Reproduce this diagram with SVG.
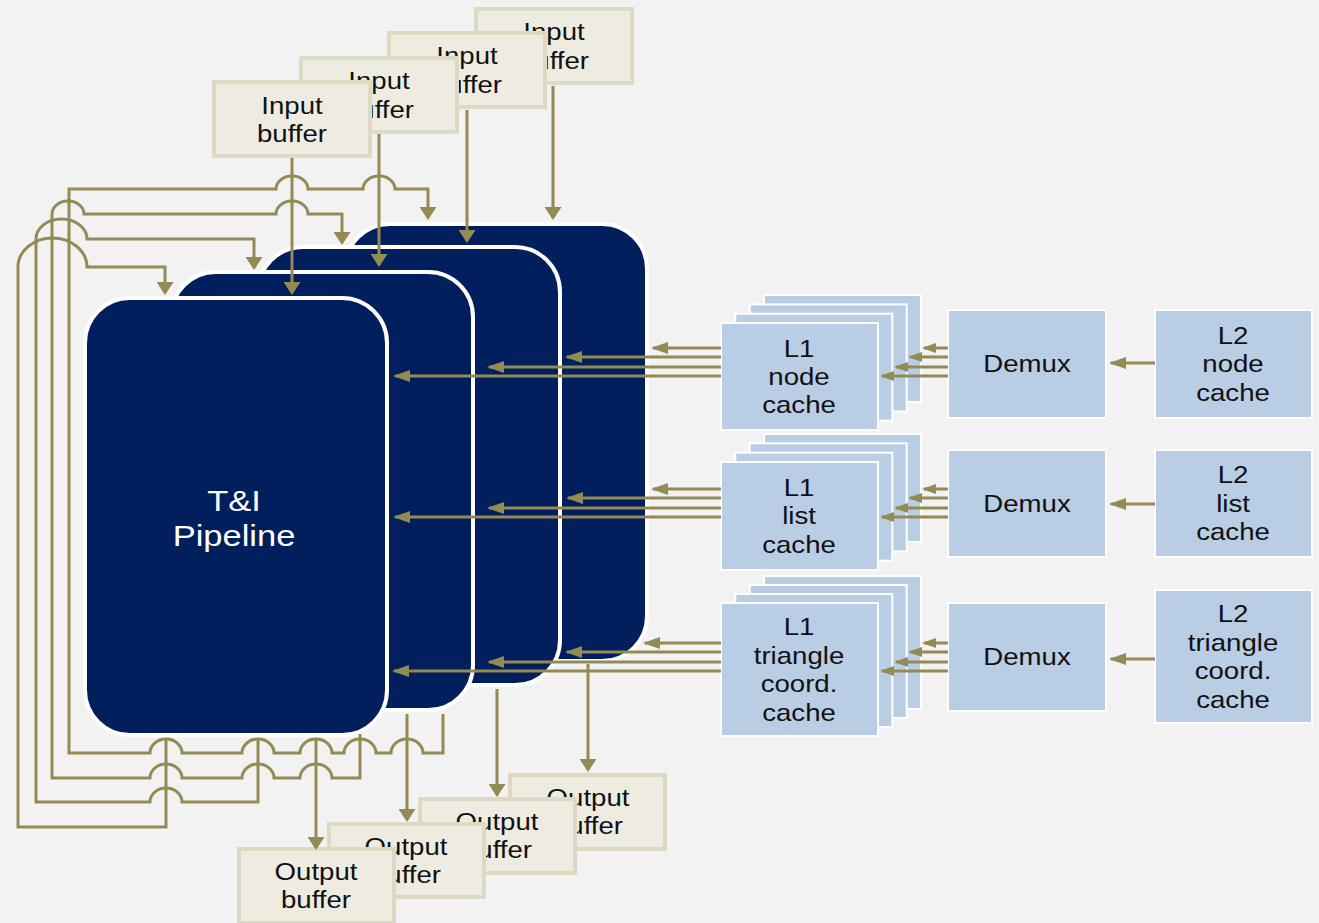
<svg xmlns="http://www.w3.org/2000/svg" width="1319" height="923" viewBox="0 0 1319 923">
<defs>
<style>
.pipe{fill:#001F5C;stroke:#FFFFFF;stroke-width:4}
.buf{fill:#EEECE1;stroke:#DDD9C3;stroke-width:4}
.cache{fill:#B9CDE5;stroke:#FFFFFF;stroke-width:2}
.lbl{font-family:"Liberation Sans",Arial,sans-serif;font-size:24px;fill:#111111;text-anchor:middle}
.big{font-family:"Liberation Sans",Arial,sans-serif;font-size:30px;fill:#FFFFFF;text-anchor:middle}
.ln{fill:none;stroke:#948A54;stroke-width:3}
.ah{marker-end:url(#ah)}
.as{marker-end:url(#as)}
.av{marker-end:url(#av)}
</style>
<marker id="ah" markerUnits="userSpaceOnUse" markerWidth="17" markerHeight="12" viewBox="0 0 17 12" refX="15" refY="6" orient="auto"><path d="M0,0 L17,6 L0,12 z" fill="#948A54"/></marker>
<marker id="as" markerUnits="userSpaceOnUse" markerWidth="14" markerHeight="10" viewBox="0 0 14 10" refX="12" refY="5" orient="auto"><path d="M0,0 L14,5 L0,10 z" fill="#948A54"/></marker>
<marker id="av" markerUnits="userSpaceOnUse" markerWidth="13" markerHeight="17" viewBox="0 0 13 17" refX="11" refY="8.5" orient="auto"><path d="M0,0 L13,8.5 L0,17 z" fill="#948A54"/></marker>
</defs>
<rect x="0" y="0" width="1319" height="923" fill="#F2F2F2"/>

<g id="pipeline-3"><rect class="pipe" x="345" y="224" width="302" height="437" rx="45"/></g>
<g id="pipeline-2"><rect class="pipe" x="258" y="247" width="302" height="438" rx="45"/></g>
<g id="pipeline-1"><rect class="pipe" x="171" y="272" width="302" height="438" rx="45"/></g>
<g id="pipeline-0"><rect class="pipe" x="85" y="298" width="302" height="437" rx="45"/>
<text class="big" transform="translate(234,0) scale(1.15,1)"><tspan x="0" y="511">T&amp;I</tspan><tspan x="0" y="546">Pipeline</tspan></text></g>

<g id="input-buffer-3"><rect class="buf" x="476" y="9" width="156" height="74"/>
<text class="lbl" transform="translate(554,0) scale(1.15,1)"><tspan x="0" y="40">Input</tspan><tspan x="0" y="69">buffer</tspan></text></g>
<g id="input-buffer-2"><rect class="buf" x="389" y="33" width="156" height="74"/>
<text class="lbl" transform="translate(467,0) scale(1.15,1)"><tspan x="0" y="64.5">Input</tspan><tspan x="0" y="93">buffer</tspan></text></g>
<g id="input-buffer-1"><rect class="buf" x="301" y="58" width="156" height="74"/>
<text class="lbl" transform="translate(379,0) scale(1.15,1)"><tspan x="0" y="89">Input</tspan><tspan x="0" y="118">buffer</tspan></text></g>
<g id="input-buffer-0"><rect class="buf" x="214" y="82" width="156" height="74"/>
<text class="lbl" transform="translate(292,0) scale(1.15,1)"><tspan x="0" y="114">Input</tspan><tspan x="0" y="142">buffer</tspan></text></g>

<g id="output-buffer-3"><rect class="buf" x="510" y="775" width="155" height="74"/>
<text class="lbl" transform="translate(588,0) scale(1.15,1)"><tspan x="0" y="806">Output</tspan><tspan x="0" y="834">buffer</tspan></text></g>
<g id="output-buffer-2"><rect class="buf" x="420" y="799" width="155" height="74"/>
<text class="lbl" transform="translate(497,0) scale(1.15,1)"><tspan x="0" y="830">Output</tspan><tspan x="0" y="858">buffer</tspan></text></g>
<g id="output-buffer-1"><rect class="buf" x="329" y="824" width="155" height="73"/>
<text class="lbl" transform="translate(406,0) scale(1.15,1)"><tspan x="0" y="855">Output</tspan><tspan x="0" y="883">buffer</tspan></text></g>
<g id="output-buffer-0"><rect class="buf" x="239" y="849" width="155" height="74"/>
<text class="lbl" transform="translate(316,0) scale(1.15,1)"><tspan x="0" y="880">Output</tspan><tspan x="0" y="908">buffer</tspan></text></g>

<g id="l1-node-cache">
<rect class="cache" x="764" y="295" width="157" height="107"/>
<rect class="cache" x="749.7" y="304.4" width="157" height="107"/>
<rect class="cache" x="735.3" y="313.7" width="157" height="107"/>
<rect class="cache" x="721" y="323" width="157" height="107"/>
<text class="lbl" transform="translate(799,0) scale(1.15,1)"><tspan x="0" y="357">L1</tspan><tspan x="0" y="385">node</tspan><tspan x="0" y="413.5">cache</tspan></text></g>
<g id="l1-list-cache">
<rect class="cache" x="764" y="434" width="157" height="108"/>
<rect class="cache" x="749.7" y="443.3" width="157" height="108"/>
<rect class="cache" x="735.3" y="452.7" width="157" height="108"/>
<rect class="cache" x="721" y="462" width="157" height="108"/>
<text class="lbl" transform="translate(799,0) scale(1.15,1)"><tspan x="0" y="496">L1</tspan><tspan x="0" y="524.5">list</tspan><tspan x="0" y="553">cache</tspan></text></g>
<g id="l1-triangle-cache">
<rect class="cache" x="764" y="576" width="157" height="133"/>
<rect class="cache" x="749.7" y="585" width="157" height="133"/>
<rect class="cache" x="735.3" y="594" width="157" height="133"/>
<rect class="cache" x="721" y="603" width="157" height="133"/>
<text class="lbl" transform="translate(799,0) scale(1.15,1)"><tspan x="0" y="635.5">L1</tspan><tspan x="0" y="664">triangle</tspan><tspan x="0" y="692.5">coord.</tspan><tspan x="0" y="721">cache</tspan></text></g>

<g id="demux-node"><rect class="cache" x="948" y="310" width="158" height="108"/>
<text class="lbl" transform="translate(1027,0) scale(1.15,1)"><tspan x="0" y="372.5">Demux</tspan></text></g>
<g id="demux-list"><rect class="cache" x="948" y="450" width="158" height="107"/>
<text class="lbl" transform="translate(1027,0) scale(1.15,1)"><tspan x="0" y="512">Demux</tspan></text></g>
<g id="demux-triangle"><rect class="cache" x="948" y="603" width="158" height="108"/>
<text class="lbl" transform="translate(1027,0) scale(1.15,1)"><tspan x="0" y="665.5">Demux</tspan></text></g>

<g id="l2-node-cache"><rect class="cache" x="1155" y="310" width="157" height="108"/>
<text class="lbl" transform="translate(1233,0) scale(1.15,1)"><tspan x="0" y="344">L2</tspan><tspan x="0" y="372.5">node</tspan><tspan x="0" y="401">cache</tspan></text></g>
<g id="l2-list-cache"><rect class="cache" x="1155" y="450" width="157" height="107"/>
<text class="lbl" transform="translate(1233,0) scale(1.15,1)"><tspan x="0" y="483.5">L2</tspan><tspan x="0" y="512">list</tspan><tspan x="0" y="540.5">cache</tspan></text></g>
<g id="l2-triangle-cache"><rect class="cache" x="1155" y="590" width="157" height="133"/>
<text class="lbl" transform="translate(1233,0) scale(1.15,1)"><tspan x="0" y="622.5">L2</tspan><tspan x="0" y="651">triangle</tspan><tspan x="0" y="679.5">coord.</tspan><tspan x="0" y="708">cache</tspan></text></g>

<g id="connectors">
<path class="ln av" d="M292,158 V293"/>
<path class="ln av" d="M379,134 V265"/>
<path class="ln av" d="M467,110 V241"/>
<path class="ln av" d="M553,86 V218"/>

<path class="ln av" d="M166,738 V827 H18 V267 A34.5,29 0 0 1 87,267 H165 V293"/>
<path class="ln av" d="M258,738 V802 H182 A16,14 0 0 0 150,802 H36 V239 A25.5,20 0 0 1 87,239 H254 V268"/>
<path class="ln av" d="M360,734 V778 H332 A16,14 0 0 0 300,778 H274 A16,14 0 0 0 242,778 H182 A16,14 0 0 0 150,778 H52 V214 A16,13 0 0 1 84,214 H276 A16,13 0 0 1 308,214 H342 V243"/>
<path class="ln av" d="M443,714 V753 H423 A16,14 0 0 0 391,753 H376 A16,14 0 0 0 344,753 H332 A16,14 0 0 0 300,753 H274 A16,14 0 0 0 242,753 H182 A16,14 0 0 0 150,753 H69 V189 H276 A16,13 0 0 1 308,189 H363 A16,13 0 0 1 395,189 H428 V218"/>

<path class="ln av" d="M316,739 V848"/>
<path class="ln av" d="M407,714 V820"/>
<path class="ln av" d="M497,689 V795"/>
<path class="ln av" d="M588,664 V770"/>

<path class="ln ah" d="M721,348 H653"/>
<path class="ln ah" d="M721,357 H567"/>
<path class="ln ah" d="M721,367 H489"/>
<path class="ln ah" d="M721,376 H395"/>
<path class="ln ah" d="M721,489 H653"/>
<path class="ln ah" d="M721,498 H568"/>
<path class="ln ah" d="M721,508 H489"/>
<path class="ln ah" d="M721,517 H395"/>
<path class="ln ah" d="M721,643 H645"/>
<path class="ln ah" d="M721,652 H567"/>
<path class="ln ah" d="M721,662 H489"/>
<path class="ln ah" d="M721,671 H394"/>

<path class="ln as" d="M948,348 H924"/>
<path class="ln as" d="M948,357 H910"/>
<path class="ln as" d="M948,367 H896"/>
<path class="ln as" d="M948,376 H882"/>
<path class="ln as" d="M948,489 H924"/>
<path class="ln as" d="M948,498 H910"/>
<path class="ln as" d="M948,508 H896"/>
<path class="ln as" d="M948,517 H882"/>
<path class="ln as" d="M948,643 H924"/>
<path class="ln as" d="M948,652 H910"/>
<path class="ln as" d="M948,662 H896"/>
<path class="ln as" d="M948,671 H882"/>

<path class="ln ah" d="M1155,363 H1111"/>
<path class="ln ah" d="M1155,504 H1111"/>
<path class="ln ah" d="M1155,659 H1111"/>
</g>
</svg>
